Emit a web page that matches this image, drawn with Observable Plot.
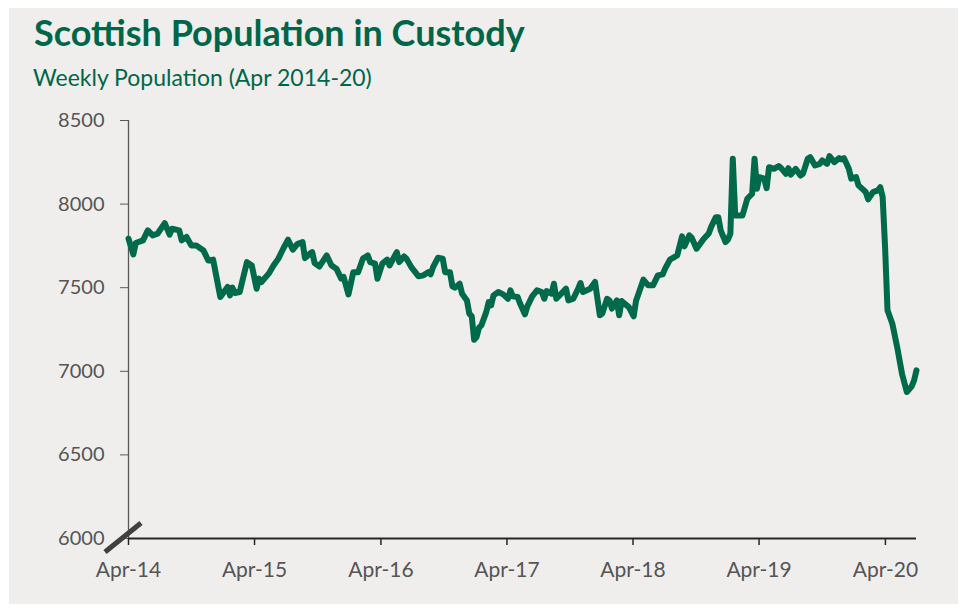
<!DOCTYPE html>
<html><head><meta charset="utf-8">
<script src="https://cdn.jsdelivr.net/npm/d3@7"></script>
<script src="https://cdn.jsdelivr.net/npm/@observablehq/plot@0.6"></script>
<style>
body{margin:0;background:#fff;width:964px;height:611px;position:relative;overflow:hidden;font-family:Lato,sans-serif}
#bg{position:absolute;left:9px;top:8px;width:949px;height:596px;background:#efeeec}
#title{position:absolute;left:34px;top:14px;font-weight:bold;font-size:36px;line-height:1;color:#00664a;white-space:nowrap}
#subtitle{position:absolute;left:33px;top:66px;font-size:23px;line-height:1;color:#00664a;white-space:nowrap}
#chart{position:absolute;left:0;top:100px}
</style></head><body>
<div id="bg"></div>
<div id="title">Scottish Population in Custody</div>
<div id="subtitle">Weekly Population (Apr 2014-20)</div>
<div id="chart"></div>
<script>
const startDate = "2014-04-01";
const weekIndex = [
0,2,3,6,8,10,12,15,17,18,21,22,24,26,28,31,33,35,38,41,
42,43,44,46,49,51,53,54,55,58,60,62,64,66,68,70,72,73,75,76,
77,79,82,84,86,88,89,91,93,95,97,99,100,102,103,105,107,108,111,112,
114,115,117,120,122,124,125,126,128,130,131,133,134,135,137,138,140,141,142,143,
144,145,146,148,149,150,151,153,155,157,158,159,161,162,164,165,167,169,171,172,
173,175,176,177,179,181,182,184,186,187,188,191,193,195,196,198,199,200,202,203,
204,207,209,210,211,213,215,217,219,221,222,224,227,229,230,232,233,235,238,240,
241,243,244,245,247,248,249,250,251,254,256,258,259,260,261,263,264,265,267,269,
270,272,273,274,276,278,279,281,282,284,286,287,289,290,292,294,295,296,298,299,
301,302,305,306,308,310,311,312,313,314,316,318,320,322,324,325,326
];
const population = [
7793,7699,7767,7783,7843,7813,7823,7886,7817,7853,7843,7783,7803,7753,7753,7723,7663,7668,7444,7504,
7454,7500,7468,7474,7653,7633,7494,7554,7534,7584,7633,7674,7733,7787,7727,7763,7773,7677,7703,7713,
7647,7627,7693,7633,7614,7554,7564,7460,7593,7593,7674,7693,7653,7644,7554,7644,7668,7633,7713,7653,
7687,7674,7623,7568,7574,7593,7580,7623,7679,7674,7593,7593,7508,7500,7524,7464,7424,7345,7329,7189,
7205,7261,7275,7354,7414,7394,7454,7474,7460,7434,7484,7448,7444,7405,7341,7388,7448,7484,7474,7434,
7480,7464,7524,7434,7464,7494,7424,7434,7494,7528,7474,7494,7534,7335,7345,7434,7424,7375,7424,7335,
7420,7384,7329,7424,7464,7548,7514,7514,7574,7580,7614,7668,7693,7807,7747,7813,7799,7733,7793,7823,
7862,7922,7922,7843,7773,7787,7823,8271,7932,7932,8032,8062,8271,8092,8161,8152,8095,8221,8211,8227,
8215,8181,8215,8176,8211,8171,8181,8271,8281,8231,8241,8261,8241,8287,8251,8275,8267,8275,8211,8152,
8161,8112,8072,8028,8072,8082,8101,8042,7743,7365,7285,7145,6986,6876,6910,6946,7006
];
const yTicks = [6000, 6500, 7000, 7500, 8000, 8500];
const xTickDates = ["2014-04-01","2015-04-01","2016-04-01","2017-04-01","2018-04-01","2019-04-01","2020-04-01"];
const xTickLabels = ["Apr-14","Apr-15","Apr-16","Apr-17","Apr-18","Apr-19","Apr-20"];

const start = new Date(startDate);
const n = Math.min(weekIndex.length, population.length);
const data = d3.range(n).map(i => ({date: d3.utcDay.offset(start, weekIndex[i] * 7), value: population[i]}));
const lastDate = data[n - 1].date;
const tickDates = xTickDates.map(d => new Date(d));
const labelOf = new Map(tickDates.map((d, i) => [+d, xTickLabels[i]]));

function breakMark(index, scales) {
  const x0 = scales.x(start), y0 = scales.y(6000);
  return d3.create("svg:line")
    .attr("x1", x0 - 23).attr("y1", y0 + 14)
    .attr("x2", x0 + 13).attr("y2", y0 - 15)
    .attr("stroke", "#404040").attr("stroke-width", 5)
    .node();
}

const chart = Plot.plot({
  width: 964, height: 500,
  marginTop: 20, marginBottom: 62, marginLeft: 128, marginRight: 48,
  style: {background: "transparent", fontFamily: "Lato, sans-serif", fontSize: "20px", color: "#595959", overflow: "visible"},
  x: {type: "utc", domain: [start, lastDate]},
  y: {domain: [6000, 8500]},
  marks: [
    Plot.axisY({ticks: yTicks, tickSize: 8, tickPadding: 16, label: null, stroke: "#595959", fill: "#555555", tickFormat: d => String(d)}),
    Plot.ruleX([start], {stroke: "#595959", strokeWidth: 1.3}),
    Plot.axisX({ticks: tickDates, tickSize: 7, tickPadding: 17, label: null, stroke: "#262626", strokeWidth: 1.5, fill: "#555555", fontSize: 21, tickFormat: d => labelOf.get(+d)}),
    Plot.ruleY([6000], {stroke: "#262626", strokeWidth: 2}),
    Plot.line(data, {x: "date", y: "value", stroke: "#006a4a", strokeWidth: 6, strokeLinejoin: "round", strokeLinecap: "round"}),
    breakMark
  ]
});
document.getElementById("chart").appendChild(chart);
</script>
</body></html>
